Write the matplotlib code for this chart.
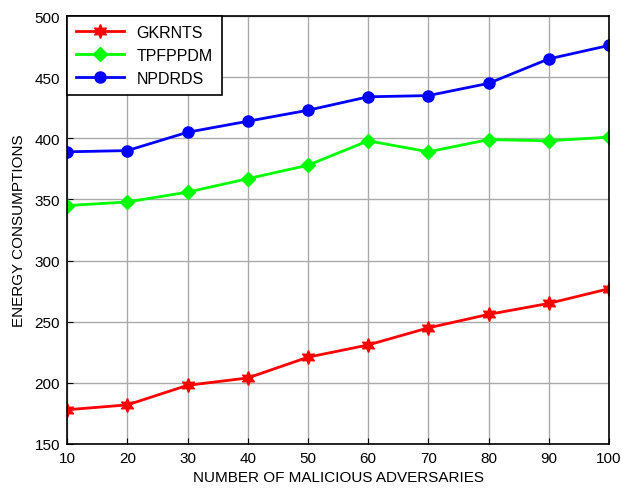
import matplotlib.pyplot as plt

plt.rcParams['font.family'] = ['Liberation Sans', 'DejaVu Sans']

x = [10, 20, 30, 40, 50, 60, 70, 80, 90, 100]
gkrnts = [178, 182, 198, 204, 221, 231, 245, 256, 265, 277]
tpfppdm = [345, 348, 356, 367, 378, 398, 389, 399, 398, 401]
npdrds = [389, 390, 405, 414, 423, 434, 435, 445, 465, 476]

fig = plt.figure(figsize=(6.22, 4.89), dpi=100)
ax = fig.add_axes([0.108, 0.090, 0.871, 0.875])

ax.plot(x, gkrnts, color='red', lw=2, marker=(6, 1, 0), ms=10, label='GKRNTS')
ax.plot(x, tpfppdm, color='#00ff00', lw=2, marker='D', ms=7, label='TPFPPDM')
ax.plot(x, npdrds, color='blue', lw=2, marker='o', ms=8, label='NPDRDS')

ax.set_xlim(10, 100)
ax.set_ylim(150, 500)
ax.set_xticks(range(10, 101, 10))
ax.set_yticks(range(150, 501, 50))
ax.grid(True, color='#aaaaaa', lw=1)
ax.tick_params(direction='in', labelsize=11, length=4, pad=5)
for s in ax.spines.values():
    s.set_linewidth(1.2)

ax.set_xlabel('NUMBER OF MALICIOUS ADVERSARIES', fontsize=11, labelpad=4)
ax.set_ylabel('ENERGY CONSUMPTIONS', fontsize=11, labelpad=6)

leg = ax.legend(loc='upper left', fontsize=11.5, fancybox=False, framealpha=1,
                edgecolor='black', borderaxespad=0, handlelength=3,
                labelspacing=0.5, borderpad=0.55)
leg.get_frame().set_linewidth(1.2)

fig.savefig('out.png', dpi=100)
